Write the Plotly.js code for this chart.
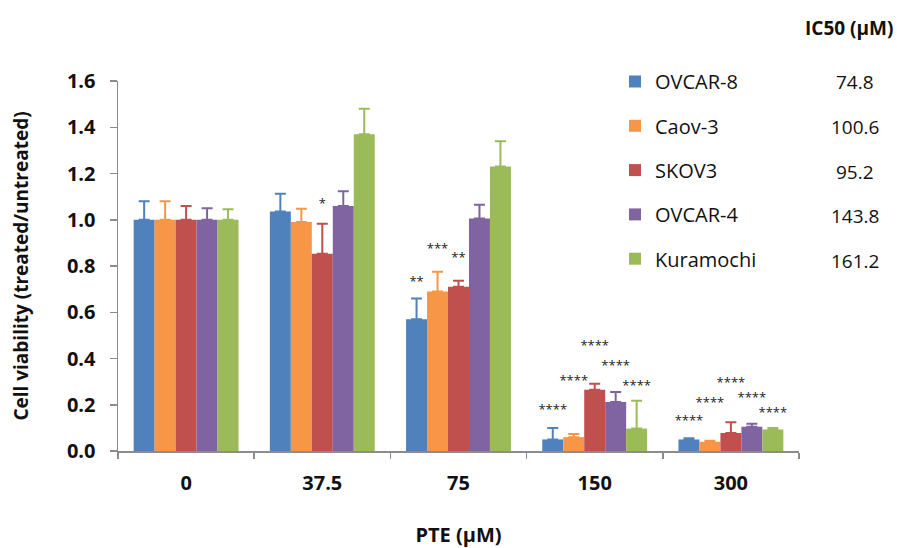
<!DOCTYPE html>
<html>
<head>
<meta charset="utf-8">
<script src="https://cdn.plot.ly/plotly-3.0.1.min.js"></script>
<style>html,body{margin:0;padding:0;background:#fff;}#chart{width:897px;height:548px;}</style>
</head>
<body>
<div id="chart"></div>
<script>
// ---- data ----
const doses = ['0', '37.5', '75', '150', '300'];
const lines = ['OVCAR-8', 'Caov-3', 'SKOV3', 'OVCAR-4', 'Kuramochi'];
const ic50 = ['74.8', '100.6', '95.2', '143.8', '161.2'];

const ovcar8 = [1.00, 1.036, 0.57, 0.05, 0.05];
const caov3 = [1.00, 0.99, 0.69, 0.06, 0.04];
const skov3 = [1.00, 0.853, 0.71, 0.265, 0.078];
const ovcar4 = [1.00, 1.06, 1.005, 0.212, 0.105];
const kuramochi = [1.00, 1.37, 1.23, 0.097, 0.093];

const ovcar8Err = [0.08, 0.076, 0.09, 0.05, 0.005];
const caov3Err = [0.08, 0.058, 0.085, 0.013, 0.004];
const skov3Err = [0.06, 0.13, 0.026, 0.026, 0.046];
const ovcar4Err = [0.05, 0.063, 0.06, 0.043, 0.013];
const kuramochiErr = [0.045, 0.11, 0.11, 0.12, 0.006];

// significance marks and the height at which each is written
const ovcar8Sig = ['', '', '**', '****', '****'];
const caov3Sig = ['', '', '***', '****', '****'];
const skov3Sig = ['', '*', '**', '****', '****'];
const ovcar4Sig = ['', '', '', '****', '****'];
const kuramochiSig = ['', '', '', '****', '****'];

const ovcar8SigY = [null, null, 0.729, 0.173, 0.126];
const caov3SigY = [null, null, 0.869, 0.299, 0.203];
const skov3SigY = [null, 1.067, 0.83, 0.45, 0.292];
const ovcar4SigY = [null, null, null, 0.364, 0.227];
const kuramochiSigY = [null, null, null, 0.277, 0.159];

// ---- styling ----
const colors = ['#4F81BD', '#F79646', '#C0504D', '#8064A2', '#9BBB59'];
const FONT = 'Open Sans, Lato, sans-serif';
const bargap = 0.23;

const values = [ovcar8, caov3, skov3, ovcar4, kuramochi];
const errs = [ovcar8Err, caov3Err, skov3Err, ovcar4Err, kuramochiErr];
const sigs = [ovcar8Sig, caov3Sig, skov3Sig, ovcar4Sig, kuramochiSig];
const sigYs = [ovcar8SigY, caov3SigY, skov3SigY, ovcar4SigY, kuramochiSigY];

const xIdx = doses.map((d, i) => i);
const barW = (1 - bargap) / lines.length;

const traces = [];
lines.forEach((name, j) => {
  traces.push({
    type: 'bar',
    name: name,
    x: xIdx,
    y: values[j],
    marker: {color: colors[j], line: {width: 0}},
    legendgroup: 'g' + j,
    error_y: {
      type: 'data', symmetric: false,
      array: errs[j], arrayminus: errs[j].map(() => 0),
      color: colors[j], thickness: 2, width: 5.5
    },
    hoverinfo: 'x+y'
  });
});
lines.forEach((name, j) => {
  const off = (j - (lines.length - 1) / 2) * barW;
  traces.push({
    type: 'scatter',
    mode: 'text',
    x: xIdx.map(i => i + off),
    y: sigYs[j],
    text: sigs[j],
    textposition: 'middle center',
    textfont: {family: FONT, size: 13, color: '#222'},
    showlegend: false,
    hoverinfo: 'skip'
  });
});

const plotLeft = 118, plotRight = 799, plotTop = 81, plotBottom = 451;
const rowY0 = 82, rowStep = 44.8;
const toPaperY = py => (plotBottom - py) / (plotBottom - plotTop);
const toPaperX = px => (px - plotLeft) / (plotRight - plotLeft);

const annotations = [{
  text: '<b>IC50 (µM)</b>', xref: 'paper', yref: 'paper',
  x: toPaperX(895), y: toPaperY(28), xanchor: 'right', yanchor: 'middle',
  showarrow: false, font: {family: FONT, size: 19, color: '#111'}
}];
ic50.forEach((v, i) => {
  annotations.push({
    text: v, xref: 'paper', yref: 'paper',
    x: toPaperX(855), y: toPaperY(rowY0 + i * rowStep),
    xanchor: 'center', yanchor: 'middle', showarrow: false,
    font: {family: FONT, size: 19, color: '#111'}
  });
});

const layout = {
  width: 897, height: 548,
  margin: {l: plotLeft, r: 897 - plotRight, t: plotTop, b: 548 - plotBottom},
  paper_bgcolor: '#fff', plot_bgcolor: '#fff',
  barmode: 'group', bargap: bargap, bargroupgap: 0,
  font: {family: FONT, color: '#111'},
  showlegend: true,
  legend: {
    x: toPaperX(615), y: toPaperY(62), xanchor: 'left', yanchor: 'top',
    bgcolor: 'rgba(0,0,0,0)', font: {family: FONT, size: 20, color: '#111'},
    traceorder: 'grouped', tracegroupgap: 15.3
  },
  xaxis: {
    range: [-0.5, 4.5], tickmode: 'array', tickvals: xIdx, ticktext: doses,
    ticks: 'outside', ticklen: 13, tickcolor: 'rgba(0,0,0,0)',
    tickfont: {family: FONT, size: 20, color: '#111', weight: 'bold'},
    showline: true, linecolor: '#8c8c8c', linewidth: 1.5,
    showgrid: false, zeroline: false,
    minor: {tickmode: 'array', tickvals: [-0.5, 0.5, 1.5, 2.5, 3.5, 4.5], ticks: 'outside', ticklen: 6, tickcolor: '#8c8c8c', tickwidth: 1.5, showgrid: false},
    title: {text: '<b>PTE (µM)</b>', font: {family: FONT, size: 20, color: '#111'}, standoff: 35}
  },
  yaxis: {
    range: [0, 1.6], tickmode: 'array',
    tickvals: [0, 0.2, 0.4, 0.6, 0.8, 1.0, 1.2, 1.4, 1.6],
    ticktext: ['0.0', '0.2', '0.4', '0.6', '0.8', '1.0', '1.2', '1.4', '1.6'],
    ticks: 'outside', ticklen: 7, tickcolor: '#8c8c8c', tickwidth: 1.5,
    ticklabelstandoff: 10,
    tickfont: {family: FONT, size: 20, color: '#111', weight: 'bold'},
    showline: true, linecolor: '#8c8c8c', linewidth: 1.5,
    showgrid: false, zeroline: false,
    title: {text: '<b>Cell viability (treated/untreated)</b>', font: {family: FONT, size: 19, color: '#111'}, standoff: 33}
  },
  annotations: annotations
};

Plotly.newPlot('chart', traces, layout, {displayModeBar: false, staticPlot: true});
</script>
</body>
</html>
